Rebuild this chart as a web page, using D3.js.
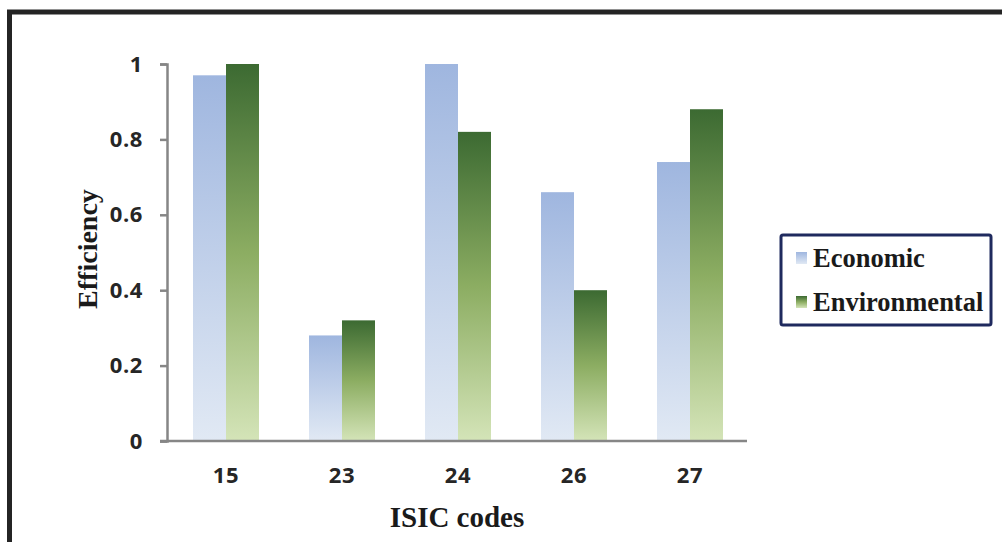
<!DOCTYPE html>
<html><head><meta charset="utf-8">
<script src="https://cdn.jsdelivr.net/npm/d3@7"></script>
<style>body{margin:0;background:#fff}svg{display:block}</style>
</head><body>
<script>
const categories = ["15","23","24","26","27"];
const economic = [0.97, 0.28, 1.0, 0.66, 0.74];
const environmental = [1.0, 0.32, 0.82, 0.40, 0.88];
const yTicks = [0, 0.2, 0.4, 0.6, 0.8, 1];
const seriesNames = ["Economic","Environmental"];

const W = 1002, H = 542;
const svg = d3.select("body").append("svg").attr("width", W).attr("height", H);
const defs = svg.append("defs");
function grad(id, stops){
  const g = defs.append("linearGradient").attr("id", id).attr("x1",0).attr("y1",0).attr("x2",0).attr("y2",1);
  stops.forEach(s => g.append("stop").attr("offset", s[0]).attr("stop-color", s[1]));
}
grad("gEco", [[0,"#9fb6df"],[1,"#e1e9f4"]]);
grad("gEnv", [[0,"#3c6a32"],[0.5,"#8cad62"],[1,"#d4e4b8"]]);

// outer frame
svg.append("rect").attr("x",9.5).attr("y",12).attr("width",1010).attr("height",620)
  .attr("fill","none").attr("stroke","#242424").attr("stroke-width",5);

const x0 = d3.scaleBand().domain(categories).range([168, 748]);
const x1 = d3.scaleBand().domain(seriesNames).range([0, 66]);
const y = d3.scaleLinear().domain([0,1]).range([441, 64]);

const g = svg.append("g");
categories.forEach((c,i) => {
  const cx = x0(c) + x0.bandwidth()/2 - 33;
  [[economic[i],"gEco",seriesNames[0]],[environmental[i],"gEnv",seriesNames[1]]].forEach(([v,gid,s]) => {
    g.append("rect").attr("x", cx + x1(s)).attr("width", x1.bandwidth())
      .attr("y", y(v)).attr("height", y(0)-y(v)).attr("fill", `url(#${gid})`);
  });
});

const tickFont = "'Open Sans', 'DejaVu Sans', sans-serif";
// y axis
const yAxis = svg.append("g").attr("transform","translate(167,0)")
  .call(d3.axisLeft(y).tickValues(yTicks).tickFormat(d3.format("~g")).tickSize(7).tickPadding(17));
yAxis.select(".domain").attr("stroke","#868686").attr("stroke-width",2.5);
yAxis.selectAll(".tick line").attr("stroke","#868686").attr("stroke-width",2.5);
yAxis.selectAll("text").attr("font-family",tickFont).attr("font-weight","bold")
  .attr("font-size",22).attr("letter-spacing",0.6).attr("fill","#262626");

// x axis
const xAxis = svg.append("g").attr("transform","translate(0,441)")
  .call(d3.axisBottom(x0).tickSize(0).tickPadding(26.5));
xAxis.select(".domain").attr("d","M160,0H747").attr("stroke","#868686").attr("stroke-width",2.5);
xAxis.selectAll("text").attr("font-family",tickFont).attr("font-weight","bold")
  .attr("font-size",22).attr("letter-spacing",0.6).attr("fill","#262626");

// titles
svg.append("text").attr("x",457).attr("y",527).attr("text-anchor","middle")
  .attr("font-family","'Liberation Serif', serif").attr("font-weight","bold").attr("font-size",29)
  .attr("fill","#1a1a1a").text("ISIC codes");
svg.append("text").attr("transform","translate(97,249) rotate(-90)").attr("text-anchor","middle")
  .attr("font-family","'Liberation Serif', serif").attr("font-weight","bold").attr("font-size",28)
  .attr("fill","#1a1a1a").text("Efficiency");

// legend
const lg = svg.append("g");
lg.append("rect").attr("x",781).attr("y",235).attr("width",210).attr("height",90)
  .attr("fill","#fff").attr("stroke","#1f2a5e").attr("stroke-width",3).attr("rx",2);
seriesNames.forEach((s,i) => {
  const yy = 258 + i*44;
  lg.append("rect").attr("x",796).attr("y",yy-6).attr("width",11).attr("height",12)
    .attr("fill", i===0 ? "url(#gEco)" : "url(#gEnv)");
  lg.append("text").attr("x",813).attr("y",yy+9).attr("font-family","'Liberation Serif', serif")
    .attr("font-weight","bold").attr("font-size",26.5).attr("fill","#1a1a1a").text(s);
});
</script>
</body></html>
